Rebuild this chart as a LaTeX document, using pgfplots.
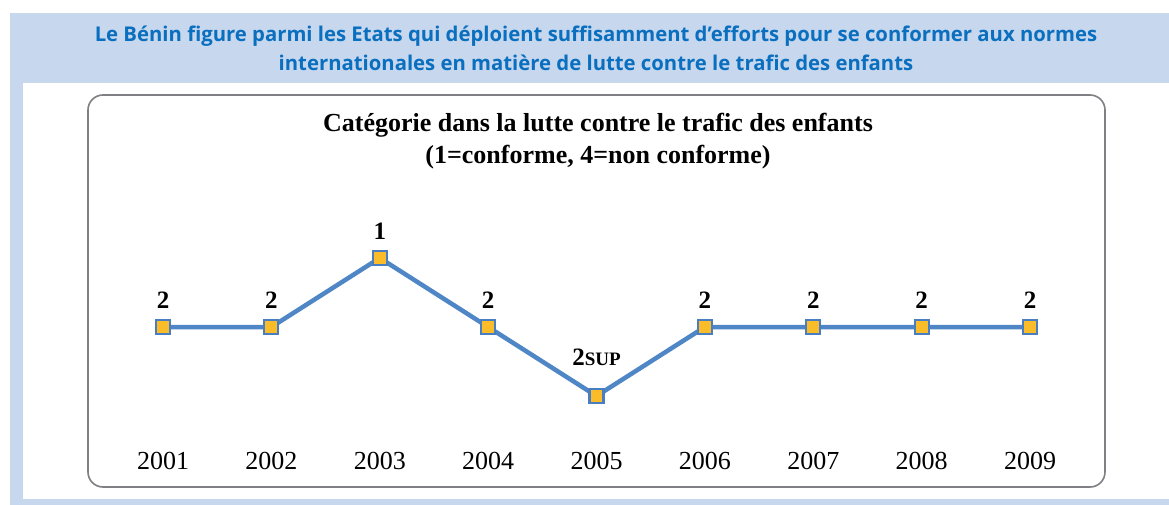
\documentclass[border=0pt]{standalone}
\usepackage{fontspec}
\setmainfont{Liberation Serif}
\newfontfamily\hdr{Open Sans}
\usepackage{pgfplots}
\pgfplotsset{compat=1.18}
\definecolor{bandblue}{HTML}{C6D7EE}
\definecolor{hdrblue}{HTML}{0A6FBF}
\definecolor{boxgray}{HTML}{808084}
\definecolor{linecol}{HTML}{4F86C6}
\definecolor{markfill}{HTML}{FBBC2A}
\definecolor{markedge}{HTML}{4A7EC2}
\begin{document}
\begin{tikzpicture}
\begin{scope}[x=1pt,y=-1pt]
\path[use as bounding box] (0,0) rectangle (1169,505);
\fill[white] (0,0) rectangle (1169,505);
\fill[bandblue] (10,13) rectangle (1169,505);
\fill[white] (23,83) rectangle (1169,499);
\draw[boxgray, line width=1.6pt, rounded corners=15pt] (88,95) rectangle (1105,487);
\node[font=\hdr\bfseries\fontsize{20.3}{29}\selectfont, text=hdrblue, align=center] at (596,48) {Le Bénin figure parmi les Etats qui déploient suffisamment d’efforts pour se conformer aux normes\\internationales en matière de lutte contre le trafic des enfants};
\node[font=\bfseries\fontsize{26}{32}\selectfont, align=center] at (598,141) {Catégorie dans la lutte contre le trafic des enfants\\(1=conforme, 4=non conforme)};
\end{scope}
\begin{axis}[at={(163pt,-396pt)}, anchor=south west, scale only axis,
  width=867pt, height=138pt, xmin=0, xmax=8, ymin=1, ymax=3, y dir=reverse,
  clip=false, axis line style={draw=none}, ytick=\empty,
  xtick={0,...,8}, xticklabels={2001,2002,2003,2004,2005,2006,2007,2008,2009},
  major tick length=0pt,
  xticklabel style={font=\fontsize{26}{26}\selectfont, anchor=base, yshift=-73pt},
  nodes near coords, point meta=explicit symbolic,
  every node near coord/.append style={font=\bfseries\fontsize{25}{25}\selectfont, text=black, anchor=base, yshift=19pt, inner sep=0pt}]
\addplot[draw=linecol, line width=4.5pt, mark=square*, mark size=7pt,
  mark options={solid, fill=markfill, draw=markedge, line width=2.2pt}]
  coordinates {(0,2)[2] (1,2)[2] (2,1)[1] (3,2)[2]
  (4,3)[\raisebox{12pt}{2{\fontsize{19}{19}\selectfont SUP}}]
  (5,2)[2] (6,2)[2] (7,2)[2] (8,2)[2]};
\end{axis}
\end{tikzpicture}
\end{document}
